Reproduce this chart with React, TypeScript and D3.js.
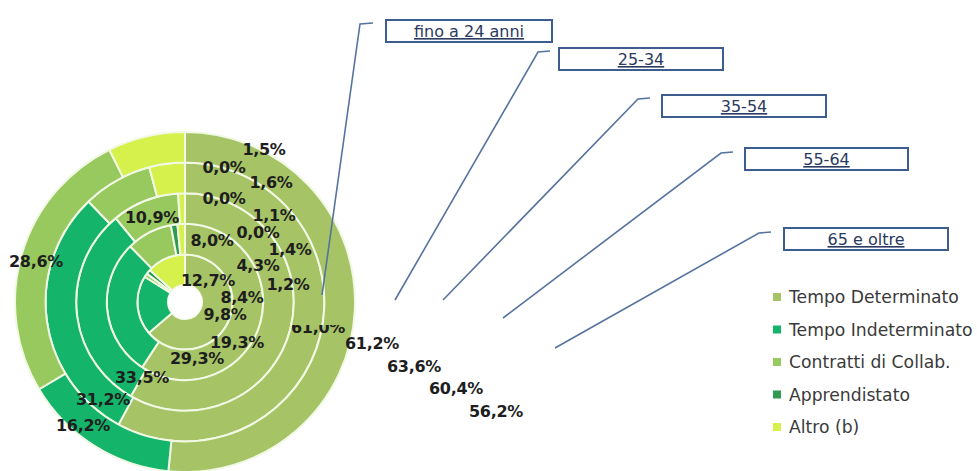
import { useRef, useEffect } from "react";
import * as d3 from "d3";

// rings, from the centre outwards
const rings = ["fino a 24 anni", "25-34", "35-54", "55-64", "65 e oltre"];
const categories = ["Tempo Determinato", "Tempo Indeterminato", "Contratti di Collab.", "Apprendistato", "Altro (b)"];

// one value per ring (inner -> outer), in %
const tempoDeterminato = [61.0, 61.2, 63.6, 60.4, 56.2];
const tempoIndeterminato = [19.3, 29.3, 33.5, 31.2, 16.2];
const contrattiCollab = [1.2, 9.8, 10.9, 8.4, 28.6];
const apprendistato = [1.5, 1.4, 0.0, 0.0, 0.0];
const altro = [12.7, 1.6, 1.1, 4.3, 8.0];

const series = [tempoDeterminato, tempoIndeterminato, contrattiCollab, apprendistato, altro];
const colors = ["#a6c466", "#14b56b", "#98c95f", "#2f9a52", "#d6f04c"];

// hand placed data labels (as in the source slide), offsets from the chart centre
const labelOffsets = [
  [[133, 25], [187, 41], [229, 64], [271, 86], [311, 109]],
  [[52, 40], [12, 56], [-43, 75], [-82, 97], [-102, 123]],
  [[103, -18], [40, 12], [-33, -85], [57, -5], [-149, -41]],
  [[79, -153], [105, -53], [73, -70], [39, -104], [39, -135]],
  [[23, -22], [86, -120], [89, -87], [73, -37], [27, -62]],
];

// age boxes and their leader lines
const boxes = [
  { x: 386, y: 20, w: 166 },
  { x: 559, y: 48, w: 164 },
  { x: 662, y: 95, w: 164 },
  { x: 745, y: 148, w: 163 },
  { x: 784, y: 228, w: 164 },
];
const leaders = [
  [[322, 295], [360, 24], [373, 23]],
  [[395, 300], [538, 52], [550, 51]],
  [[443, 300], [638, 99], [650, 98]],
  [[503, 318], [721, 153], [733, 152]],
  [[555, 348], [759, 233], [771, 232]],
];

const W = 977;
const H = 471;

const App = () => {
  const svgRef = useRef<SVGSVGElement | null>(null);

  useEffect(() => {
    if (!svgRef.current) return;
    const svg = d3.select(svgRef.current);
    svg.selectAll("*").remove();

    const cx = 185;
    const cy = 302;
    const r = d3.scaleLinear().domain([0, rings.length]).range([17, 170]);
    const pie = d3.pie<number>().sort(null).value((d) => d);
    const fmt = (v: number) => d3.format(".1f")(v).replace(".", ",") + "%";

    const chart = svg.append("g").attr("transform", `translate(${cx},${cy})`);

    rings.forEach((ring, i) => {
      const vals = series.map((s) => s[i]);
      const arc = d3.arc<d3.PieArcDatum<number>>().innerRadius(r(i)).outerRadius(r(i + 1));
      chart
        .append("g")
        .attr("class", "ring")
        .attr("data-ring", ring)
        .selectAll("path")
        .data(pie(vals).filter((d) => d.value > 0))
        .enter()
        .append("path")
        .attr("d", arc)
        .attr("fill", (d) => colors[d.index])
        .attr("stroke", "#f1f9e4")
        .attr("stroke-width", 2);
    });

    // hole
    chart.append("circle").attr("r", r(0)).attr("fill", "#fff");

    // clip for the half hidden first label
    svg
      .append("clipPath")
      .attr("id", "clipHalf")
      .append("rect")
      .attr("x", cx + 100)
      .attr("y", cy + 23)
      .attr("width", 80)
      .attr("height", 20);

    const labels = svg.append("g").attr("font-family", "DejaVu Sans, sans-serif").attr("font-weight", "bold");
    series.forEach((s, c) => {
      s.forEach((v, i) => {
        const [dx, dy] = labelOffsets[c][i];
        const t = labels
          .append("text")
          .attr("x", cx + dx)
          .attr("y", cy + dy)
          .attr("text-anchor", "middle")
          .attr("dominant-baseline", "central")
          .attr("font-size", 16)
          .attr("letter-spacing", -0.3)
          .attr("fill", "#1e1e1e")
          .text(fmt(v));
        if (c === 0 && i === 0) t.attr("clip-path", "url(#clipHalf)");
      });
    });

    // leader lines
    const line = d3.line();
    svg
      .append("g")
      .selectAll("path")
      .data(leaders)
      .enter()
      .append("path")
      .attr("d", (d) => line(d as [number, number][]))
      .attr("fill", "none")
      .attr("stroke", "#56739f")
      .attr("stroke-width", 1.6);

    // age boxes
    const bx = svg.append("g").attr("font-family", "DejaVu Sans, sans-serif");
    boxes.forEach((b, i) => {
      bx.append("rect")
        .attr("x", b.x)
        .attr("y", b.y)
        .attr("width", b.w)
        .attr("height", 22)
        .attr("fill", "#fff")
        .attr("stroke", "#3e5d8f")
        .attr("stroke-width", 2);
      bx.append("text")
        .attr("x", b.x + b.w / 2)
        .attr("y", b.y + 17)
        .attr("text-anchor", "middle")
        .attr("font-size", 16)
        .attr("fill", "#2a3a60")
        .attr("text-decoration", "underline")
        .text(rings[i]);
    });

    // legend
    const ly = d3.scaleLinear().domain([0, categories.length - 1]).range([297, 427]);
    const legend = svg.append("g").attr("font-family", "DejaVu Sans, sans-serif");
    categories.forEach((c, i) => {
      legend.append("rect")
        .attr("x", 773)
        .attr("y", ly(i) - 4)
        .attr("width", 8)
        .attr("height", 8)
        .attr("fill", colors[i]);
      legend.append("text")
        .attr("x", 789)
        .attr("y", ly(i))
        .attr("dominant-baseline", "central")
        .attr("font-size", 17.2)
        .attr("fill", "#3a3a3a")
        .text(c);
    });
  }, []);

  return (
    <svg
      ref={svgRef}
      width={W}
      height={H}
      viewBox={`0 0 ${W} ${H}`}
      style={{ position: "absolute", left: 0, top: 0, background: "#fff" }}
    ></svg>
  );
};

export default App;
